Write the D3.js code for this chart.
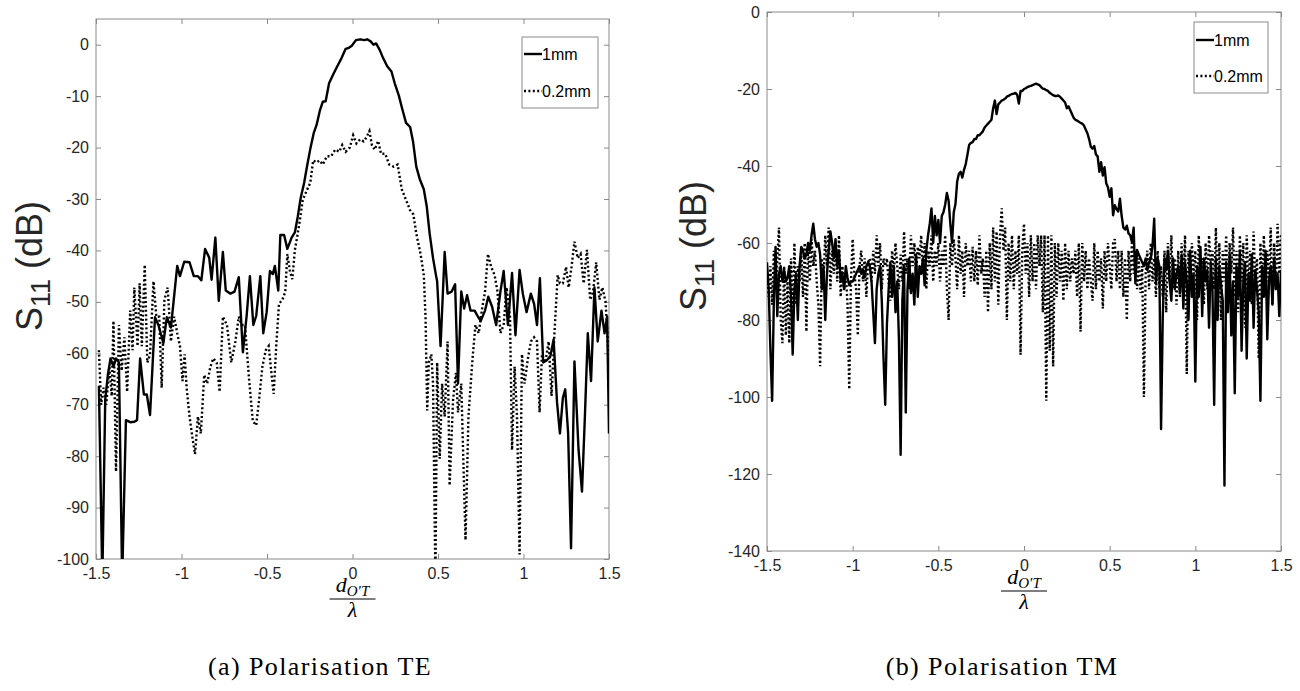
<!DOCTYPE html>
<html><head><meta charset="utf-8">
<script src="https://cdn.jsdelivr.net/npm/d3@7"></script>
<style>body{margin:0;background:#fff} svg{display:block}</style>
</head><body><svg id="c" width="1300" height="691"></svg>
<script>
// ---------- DATA ----------
const seriesNames = ["1mm", "0.2mm"];
const captions = ["(a) Polarisation TE", "(b) Polarisation TM"];
const xTicks = [-1.5, -1, -0.5, 0, 0.5, 1, 1.5];
const xTickLabels = ["-1.5", "-1", "-0.5", "0", "0.5", "1", "1.5"];
const teYTicks = [0, -10, -20, -30, -40, -50, -60, -70, -80, -90, -100];
const tmYTicks = [0, -20, -40, -60, -80, -100, -120, -140];

// TE, 1mm (solid): [x, dB]
const teSolid = [
[-1.483,-66.3],[-1.463,-104],[-1.446,-69],[-1.43,-64],[-1.415,-61],[-1.398,-62.6],[-1.383,-61],[-1.366,-61.8],
[-1.347,-104],[-1.325,-73],[-1.30,-73.4],[-1.276,-73.3],[-1.26,-73],[-1.242,-61],[-1.22,-68],[-1.203,-68],
[-1.184,-72],[-1.155,-53],[-1.135,-54.5],[-1.106,-58],[-1.086,-53],[-1.062,-55],[-1.025,-43],[-1.009,-45],
[-0.984,-42.2],[-0.953,-42.3],[-0.928,-45],[-0.904,-45],[-0.884,-45.8],[-0.862,-39.7],[-0.838,-41.4],[-0.824,-45.7],
[-0.802,-37.5],[-0.782,-49.8],[-0.758,-40.3],[-0.741,-47.8],[-0.714,-48.4],[-0.69,-48],[-0.665,-45.2],[-0.641,-59.8],
[-0.619,-52.7],[-0.6,-45],[-0.58,-54.5],[-0.563,-52.7],[-0.539,-45],[-0.522,-56.1],[-0.502,-52],[-0.483,-44],
[-0.466,-44.6],[-0.454,-43],[-0.434,-47.8],[-0.422,-37],[-0.4,-37],[-0.381,-39.7],[-0.356,-37.5],[-0.337,-36.5],
[-0.32,-33.4],[-0.303,-29.8],[-0.283,-26.9],[-0.264,-23.3],[-0.247,-20.3],[-0.227,-17.2],[-0.21,-15.6],[-0.19,-12.7],
[-0.174,-11.1],[-0.157,-11],[-0.137,-7.5],[-0.113,-5.8],[-0.089,-4.2],[-0.064,-2.6],[-0.04,-0.8],[-0.021,-0.6],
[-0.004,-0.2],[0.02,0.9],[0.045,1.05],[0.07,0.9],[0.086,1.05],[0.106,0.65],[0.123,0],[0.138,0.25],
[0.159,-1],[0.179,-2.6],[0.203,-4.2],[0.228,-5.2],[0.247,-7.5],[0.271,-9.9],[0.291,-12.5],[0.313,-15.2],
[0.337,-16],[0.354,-18.8],[0.373,-23.7],[0.393,-26.1],[0.417,-28.1],[0.434,-31.4],[0.451,-36.7],[0.471,-41.5],
[0.488,-44.8],[0.495,-46],[0.515,-58.6],[0.539,-40.3],[0.556,-48.4],[0.58,-48],[0.6,-46.6],[0.617,-65.9],
[0.636,-48],[0.653,-51.3],[0.67,-48.7],[0.69,-51.7],[0.714,-51.7],[0.734,-52.9],[0.75,-53.7],[0.775,-51.7],
[0.794,-49],[0.816,-50.9],[0.84,-54.5],[0.865,-48],[0.884,-44],[0.909,-54.5],[0.933,-44.4],[0.953,-56.5],
[0.977,-43.8],[0.996,-48.4],[1.018,-52],[1.043,-48.4],[1.062,-50.4],[1.079,-54.5],[1.096,-45.4],[1.115,-61.8],
[1.135,-61.4],[1.157,-60.6],[1.176,-57.3],[1.196,-69.5],[1.213,-75.6],[1.23,-68.7],[1.244,-67],[1.261,-75.6],
[1.278,-97.9],[1.298,-61.6],[1.322,-78.8],[1.342,-86.9],[1.359,-72.3],[1.376,-56.1],[1.395,-65.4],[1.415,-47.2],
[1.434,-57.7],[1.456,-51.7],[1.474,-56.1],[1.489,-52.9],[1.5,-75.6]
];

// TE, 0.2mm (dotted): [x, dB]
const teDotted = [
[-1.483,-59.4],[-1.47,-70],[-1.456,-66.7],[-1.44,-70],[-1.422,-62.6],[-1.408,-68.3],[-1.398,-53.7],[-1.383,-83],
[-1.366,-54.5],[-1.35,-63.4],[-1.334,-56.9],[-1.318,-67.5],[-1.3,-51.7],[-1.286,-59.4],[-1.276,-47.2],[-1.257,-58.6],
[-1.245,-46.4],[-1.232,-58.6],[-1.215,-42.8],[-1.2,-61.8],[-1.184,-60.3],[-1.164,-46],[-1.147,-52.9],[-1.13,-52.9],
[-1.116,-66.7],[-1.1,-49.6],[-1.081,-47.2],[-1.062,-57.7],[-1.043,-52.9],[-1.025,-56.1],[-1.009,-58.6],[-0.994,-65.4],
[-0.982,-60.2],[-0.97,-66.7],[-0.953,-72.3],[-0.936,-76.4],[-0.921,-79.6],[-0.904,-72.3],[-0.887,-75.6],[-0.867,-64.2],
[-0.85,-65.9],[-0.831,-62.6],[-0.814,-61],[-0.794,-61.8],[-0.777,-67.5],[-0.758,-52.9],[-0.734,-54.5],[-0.709,-61.8],
[-0.685,-57.7],[-0.665,-52.9],[-0.648,-54.5],[-0.629,-54.5],[-0.605,-65],[-0.583,-73.2],[-0.563,-74],[-0.544,-68.3],
[-0.527,-62.6],[-0.507,-59.4],[-0.49,-58.6],[-0.473,-64.2],[-0.461,-67.9],[-0.446,-58.6],[-0.43,-50.4],[-0.41,-49.6],
[-0.393,-48],[-0.381,-40.7],[-0.366,-44],[-0.352,-45.6],[-0.337,-39.9],[-0.32,-36.7],[-0.308,-34.2],[-0.291,-30.2],
[-0.276,-29],[-0.259,-27.7],[-0.247,-26.9],[-0.23,-22.5],[-0.21,-22.9],[-0.193,-22.5],[-0.174,-23.3],[-0.15,-21.7],
[-0.125,-21.7],[-0.101,-20.4],[-0.077,-20.8],[-0.06,-19.5],[-0.04,-20.8],[-0.016,-20],[0.004,-17.6],[0.023,-19.2],
[0.045,-18.4],[0.065,-18.8],[0.082,-18],[0.099,-16.8],[0.114,-19.6],[0.13,-20.4],[0.15,-18.7],[0.167,-21.2],
[0.191,-21.2],[0.215,-23.3],[0.24,-23.7],[0.264,-23.3],[0.288,-28.1],[0.313,-30.2],[0.337,-32.2],[0.356,-33],
[0.373,-36.7],[0.398,-40.7],[0.417,-44.8],[0.427,-52.9],[0.437,-71.1],[0.446,-61.8],[0.461,-60.2],[0.471,-65.9],
[0.485,-104],[0.495,-61.8],[0.51,-80.5],[0.524,-65.9],[0.539,-72.3],[0.556,-57.7],[0.568,-85.7],[0.588,-69.1],
[0.605,-63.8],[0.617,-71.5],[0.636,-65.9],[0.661,-96.3],[0.678,-72.3],[0.702,-61],[0.719,-54.5],[0.738,-56.1],
[0.758,-51.3],[0.775,-48],[0.792,-40.7],[0.811,-43.2],[0.831,-44.8],[0.848,-48],[0.865,-56.1],[0.884,-54.5],
[0.901,-47.2],[0.921,-52.9],[0.933,-78.8],[0.948,-62.6],[0.962,-72.3],[0.977,-99.1],[0.991,-60.2],[1.006,-65.9],
[1.026,-61],[1.043,-57.7],[1.062,-56.9],[1.079,-57.7],[1.094,-71.5],[1.108,-60.2],[1.128,-61.8],[1.147,-57.7],
[1.164,-68.3],[1.181,-56.1],[1.2,-44.8],[1.213,-46.4],[1.23,-46.4],[1.249,-43.2],[1.264,-47.2],[1.281,-43.2],
[1.298,-38.3],[1.317,-41.5],[1.334,-40.7],[1.352,-46.4],[1.371,-39.9],[1.39,-49.6],[1.407,-48],[1.425,-42.3],
[1.444,-49.6],[1.461,-47.2],[1.48,-50],[1.497,-60.2]
];

// TM: sampled every 0.01 from -1.5 to 1.5 (301 samples each)
const tmStart = -1.5, tmStep = 0.01;
const tmSolid = [
-65,-72,-88,-101,-75,-61,-79,-68,-66,-70,
-67,-70,-69,-66,-74,-89,-72,-68,-80,-66,
-61,-62,-64,-63,-60,-62,-58,-55,-59,-61,
-60,-63,-72,-66,-80,-68,-62,-57,-60,-64,
-59,-66,-62,-70,-68,-72,-66,-69,-71,-70,
-70,-69,-68,-67,-66,-68,-67,-69,-66,-65,
-66,-70,-78,-86,-72,-68,-66,-75,-90,-102,
-81,-72,-65,-74,-66,-78,-70,-85,-115,-75,
-66,-104,-72,-64,-73,-68,-76,-63,-74,-66,
-68,-64,-71,-62,-58,-55,-51,-60,-53,-58,
-54,-60,-53,-52,-50,-47,-49,-55,-60,-52,
-49.9,-44,-42,-41.5,-43,-41,-39.5,-37,-34.5,-34,
-33.8,-33,-33,-32,-32,-31.5,-31,-30,-29.5,-29,
-28.5,-28,-25,-23,-26.5,-24,-23.5,-23,-22.8,-22.5,
-22,-21.8,-21.5,-21.3,-21.2,-21,-21.5,-23.8,-20.5,-20.5,
-20,-19.8,-19.5,-19.3,-19.2,-19,-18.8,-18.6,-18.8,-19,
-19.5,-19.9,-20,-20.3,-20.5,-21,-21.3,-21.6,-21.8,-21.8,
-21.7,-22,-22.5,-23,-23.5,-25,-24.5,-25.5,-26.5,-27.5,
-28,-28.2,-28.5,-28.8,-29,-29.5,-30.5,-31.5,-33,-35,
-35.5,-34.8,-37,-37.5,-41.5,-39,-42.5,-40.3,-44.5,-45.5,
-48,-45.8,-52.8,-50.2,-51.2,-51.8,-48.5,-53,-56,-56.5,
-55.5,-57.5,-58,-59.8,-56,-70.5,-61.8,-63,-64,-65,
-66,-64,-67,-65,-64,-60.8,-53.7,-70.5,-64,-66,
-108.3,-79,-64,-67,-62,-70,-75,-64,-72,-68,
-66,-73,-63,-77,-65,-70,-80,-62,-74,-68,
-96,-66,-74,-61,-79,-64,-70,-67,-82,-65,
-72,-102,-64,-80,-66,-71,-75,-123,-65,-78,
-63,-84,-70,-99,-66,-74,-62,-88,-70,-65,
-90,-68,-75,-63,-82,-67,-72,-78,-101,-66,
-74,-62,-85,-70,-66,-76,-64,-72,-68,-79,
-67
];
const tmDotted = [
-68,-74,-66,-76,-62,-72,-64,-56,-80,-86,
-66,-84,-70,-86,-64,-80,-60,-76,-66,-70,
-62,-74,-60,-83,-60,-70,-59,-66,-62,-70,
-76,-92,-64,-70,-58,-66,-56,-72,-62,-68,
-60,-70,-58,-74,-66,-72,-68,-76,-98,-70,
-59,-68,-72,-84,-66,-62,-70,-64,-74,-65,
-64,-70,-62,-68,-58,-66,-60,-72,-64,-66,
-64,-70,-75,-62,-68,-60,-66,-72,-63,-70,
-57,-68,-64,-72,-58,-66,-60,-68,-61,-64,
-58,-68,-60,-72,-62,-66,-58,-70,-62,-66,
-60,-70,-62,-66,-58,-72,-80,-60,-66,-59,
-64,-72,-58,-68,-62,-74,-60,-66,-62,-70,
-61,-70,-62,-71,-58,-68,-64,-74,-62,-78,
-60,-72,-56,-70,-57,-76,-58,-51,-62,-56,
-80,-60,-70,-58,-72,-62,-68,-58,-89,-62,
-55,-68,-60,-74,-58,-70,-60,-72,-58,-66,
-58,-78,-58,-101,-58,-88,-58,-92,-60,-74,
-60,-70,-62,-75,-60,-72,-62,-70,-64,-68,
-62,-74,-60,-83,-60,-70,-62,-72,-64,-70,
-75,-60,-72,-62,-70,-64,-77,-62,-70,-60,
-66,-72,-60,-59,-70,-62,-72,-62,-74,-64,
-80,-62,-70,-60,-68,-62,-72,-64,-73,-66,
-100,-68,-62,-72,-60,-70,-64,-74,-62,-72,
-66,-74,-62,-78,-60,-70,-58,-72,-64,-76,
-62,-74,-60,-70,-58,-94,-62,-72,-60,-68,
-62,-80,-58,-70,-64,-76,-60,-72,-58,-66,
-62,-72,-56,-74,-60,-80,-62,-70,-58,-76,
-60,-68,-56,-74,-62,-78,-58,-70,-60,-82,
-58,-72,-62,-76,-57,-70,-64,-90,-60,-72,
-58,-74,-62,-70,-56,-76,-60,-72,-55,-68,
-58
];

// ---------- DRAW ----------
const svg = d3.select("#c");
const tmPairs = arr => arr.map((v, i) => [tmStart + i * tmStep, v]);

const panels = [
  { L: 96, R: 609, T: 19, B: 559, yDom: [-100, 5], yTicks: teYTicks,
    solid: teSolid, dotted: teDotted,
    leg: { x: 522, y: 37, w: 76, h: 71, r1: 54, r2: 91 },
    ylab: { x: 42, cy: 266 }, frac: { y: 592 }, cap: { x: 320, y: 675 }, caption: captions[0] },
  { L: 767, R: 1281, T: 12, B: 551, yDom: [-140, 0], yTicks: tmYTicks,
    solid: tmPairs(tmSolid), dotted: tmPairs(tmDotted),
    leg: { x: 1194, y: 22, w: 74, h: 71, r1: 40, r2: 76 },
    ylab: { x: 706, cy: 246 }, frac: { y: 584 }, cap: { x: 1002, y: 675 }, caption: captions[1] }
];

const axisColor = "#8a8a8a", labelColor = "#262626";
const sans = "'Liberation Sans', Arial, Helvetica, sans-serif";
const serif = "'Liberation Serif', 'Times New Roman', serif";

panels.forEach((p, pi) => {
  const x = d3.scaleLinear().domain([-1.5, 1.5]).range([p.L, p.R]);
  const y = d3.scaleLinear().domain(p.yDom).range([p.B, p.T]);
  const g = svg.append("g");

  const clipId = "clip" + pi;
  svg.append("clipPath").attr("id", clipId).append("rect")
    .attr("x", p.L).attr("y", p.T).attr("width", p.R - p.L).attr("height", p.B - p.T);

  const styleAxis = sel => {
    sel.select(".domain").remove();
    sel.selectAll(".tick line").attr("stroke", axisColor);
    sel.selectAll(".tick text").attr("fill", labelColor).style("font-family", sans).style("font-size", "16px");
  };
  g.append("g").attr("transform", `translate(0,${p.B})`)
    .call(d3.axisBottom(x).tickValues(xTicks).tickFormat((d, i) => xTickLabels[i]).tickSizeInner(-5).tickSizeOuter(0).tickPadding(9))
    .call(styleAxis);
  g.append("g").attr("transform", `translate(0,${p.T})`)
    .call(d3.axisTop(x).tickValues(xTicks).tickFormat("").tickSizeInner(-5).tickSizeOuter(0))
    .call(styleAxis);
  g.append("g").attr("transform", `translate(${p.L},0)`)
    .call(d3.axisLeft(y).tickValues(p.yTicks).tickFormat(d => String(d)).tickSizeInner(-5).tickSizeOuter(0).tickPadding(7))
    .call(styleAxis);
  g.append("g").attr("transform", `translate(${p.R},0)`)
    .call(d3.axisRight(y).tickValues(p.yTicks).tickFormat("").tickSizeInner(-5).tickSizeOuter(0))
    .call(styleAxis);

  g.append("rect").attr("x", p.L).attr("y", p.T).attr("width", p.R - p.L).attr("height", p.B - p.T)
    .attr("fill", "none").attr("stroke", axisColor).attr("stroke-width", 1);

  const line = d3.line().x(d => x(d[0])).y(d => y(d[1]));
  const plot = g.append("g").attr("clip-path", `url(#${clipId})`);
  plot.append("path").datum(p.dotted).attr("d", line).attr("fill", "none")
    .attr("stroke", "#000").attr("stroke-width", 2.4).attr("stroke-dasharray", "2,2.4");
  plot.append("path").datum(p.solid).attr("d", line).attr("fill", "none")
    .attr("stroke", "#000").attr("stroke-width", 2.4).attr("stroke-linejoin", "round");

  // legend
  const lg = g.append("g");
  lg.append("rect").attr("x", p.leg.x).attr("y", p.leg.y).attr("width", p.leg.w).attr("height", p.leg.h)
    .attr("fill", "#fff").attr("stroke", axisColor).attr("stroke-width", 1);
  [[p.leg.r1, null], [p.leg.r2, "2,2.4"]].forEach(([ry, dash], k) => {
    const ln = lg.append("line").attr("x1", p.leg.x + 2).attr("x2", p.leg.x + 20)
      .attr("y1", ry).attr("y2", ry).attr("stroke", "#000").attr("stroke-width", 2.4);
    if (dash) ln.attr("stroke-dasharray", dash);
    lg.append("text").attr("x", p.leg.x + 20).attr("y", ry).attr("dy", "0.36em")
      .style("font-family", sans).style("font-size", "16px").attr("fill", "#000").text(seriesNames[k]);
  });

  // y label
  const yl = g.append("text").attr("transform", `translate(${p.ylab.x},${p.ylab.cy}) rotate(-90)`)
    .attr("text-anchor", "middle").style("font-family", sans).style("font-size", "36px").attr("fill", labelColor);
  yl.append("tspan").text("S");
  yl.append("tspan").attr("dy", 8).style("font-size", "27px").text("11");
  yl.append("tspan").attr("dy", -8).text(" (dB)");

  // x label: fraction d_{O'T} / lambda
  const cx = (p.L + p.R) / 2;
  const fr = g.append("g").attr("fill", "#000");
  const num = fr.append("text").attr("x", cx).attr("y", p.frac.y).attr("text-anchor", "middle")
    .style("font-family", serif).style("font-style", "italic").style("font-size", "22px");
  num.append("tspan").text("d");
  num.append("tspan").attr("dy", 4).style("font-size", "15px").text("O\u2032T");
  fr.append("line").attr("x1", cx - 23).attr("x2", cx + 23).attr("y1", p.frac.y + 7).attr("y2", p.frac.y + 7)
    .attr("stroke", "#000").attr("stroke-width", 1.2);
  fr.append("text").attr("x", cx).attr("y", p.frac.y + 25).attr("text-anchor", "middle")
    .style("font-family", serif).style("font-style", "italic").style("font-size", "22px").text("\u03bb");

  // caption
  g.append("text").attr("x", p.cap.x).attr("y", p.cap.y).attr("text-anchor", "middle")
    .style("font-family", serif).style("font-size", "26px").style("letter-spacing", "1.4px")
    .attr("fill", "#000").text(p.caption);
});
</script>
</body></html>
